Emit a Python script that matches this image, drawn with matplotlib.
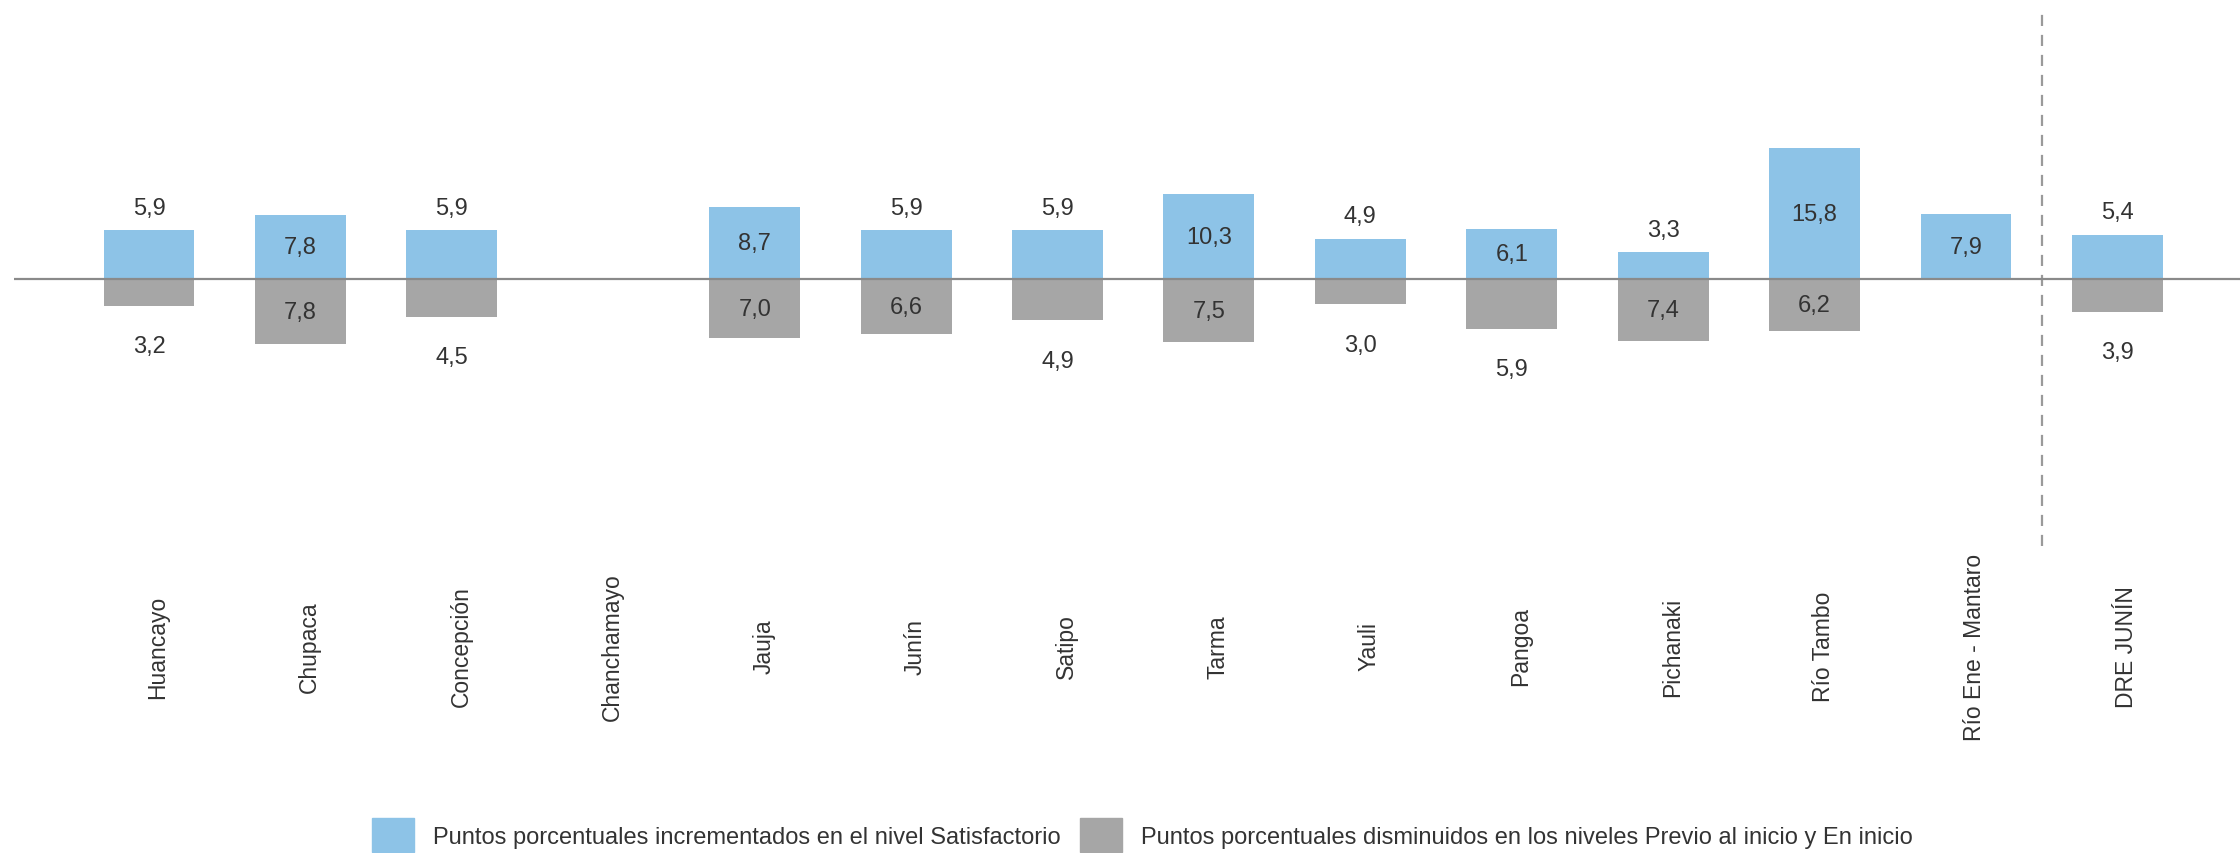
import numpy as np
import matplotlib
matplotlib.use('Agg')
import matplotlib.pyplot as plt
import matplotlib.transforms as mtransforms
from matplotlib import font_manager
from matplotlib.patches import Patch

categories = ['Huancayo', 'Chupaca', 'Concepción', 'Chanchamayo', 'Jauja', 'Junín', 'Satipo',
              'Tarma', 'Yauli', 'Pangoa', 'Pichanaki', 'Río Tambo', 'Río Ene - Mantaro', 'DRE JUNÍN']
incrementados = [5.9, 7.8, 5.9, np.nan, 8.7, 5.9, 5.9, 10.3, 4.9, 6.1, 3.3, 15.8, 7.9, 5.4]
disminuidos = [3.2, 7.8, 4.5, np.nan, 7.0, 6.6, 4.9, 7.5, 3.0, 5.9, 7.4, 6.2, np.nan, 3.9]

legend_labels = ['Puntos porcentuales incrementados en el nivel Satisfactorio',
                 'Puntos porcentuales disminuidos en los niveles Previo al inicio y En inicio']

blue = '#8dc3e7'
gray = '#a6a6a6'
text_color = '#333333'

installed = {f.name for f in font_manager.fontManager.ttflist}
base_font = 'Liberation Sans' if 'Liberation Sans' in installed else 'DejaVu Sans'
narrow_font = 'Liberation Sans Narrow' if 'Liberation Sans Narrow' in installed else base_font
plt.rcParams['font.family'] = base_font

fig = plt.figure(figsize=(22.4, 8.54), dpi=100)
ax = fig.add_axes([0.00625, 0.3595, 0.99375, 0.6241])

x = np.arange(len(categories))
inc = np.array(incrementados)
dis = np.array(disminuidos)

ax.bar(x, inc, width=0.6, color=blue, zorder=2)
ax.bar(x, -dis, width=0.6, color=gray, zorder=2)

ax.axhline(0, color='#8a8a8a', lw=1.6, zorder=3)
ax.axvline(12.5, color='#9a9a9a', lw=1.6, linestyle=(0, (5, 4)))


def fmt(v):
    return f'{v:.1f}'.replace('.', ',')


for xi, v in zip(x, inc):
    if np.isnan(v):
        continue
    if v >= 6:
        ax.text(xi, v / 2, fmt(v), ha='center', va='center', fontsize=17,
                family=narrow_font, color=text_color, zorder=4)
    else:
        ax.annotate(fmt(v), (xi, v), xytext=(0, 16), textcoords='offset points',
                    ha='center', va='center', fontsize=17, family=narrow_font, color=text_color)

for xi, v in zip(x, dis):
    if np.isnan(v):
        continue
    if v >= 6:
        ax.text(xi, -v / 2, fmt(v), ha='center', va='center', fontsize=17,
                family=narrow_font, color=text_color, zorder=4)
    else:
        ax.annotate(fmt(v), (xi, -v), xytext=(0, -29), textcoords='offset points',
                    ha='center', va='center', fontsize=17, family=narrow_font, color=text_color)

ax.set_xlim(-0.892, 13.81)
ax.set_ylim(-32, 32)
ax.set_xticks(x, categories, rotation=90, va='center', ha='center', fontsize=16.5, color=text_color)
ax.tick_params(axis='x', length=0, pad=72)
shift = mtransforms.ScaledTranslation(6.5 / 72, 0, fig.dpi_scale_trans)
for lbl in ax.get_xticklabels():
    lbl.set_transform(lbl.get_transform() + shift)
ax.set_yticks([])
for s in ax.spines.values():
    s.set_visible(False)

handles = [Patch(color=blue), Patch(color=gray)]
fig.legend(handles, legend_labels, loc='center', bbox_to_anchor=(0.51, 0.021), ncol=2,
           frameon=False, fontsize=17, handlelength=1.8, handleheight=1.8,
           handletextpad=0.8, columnspacing=0.8, labelcolor=text_color)

fig.savefig('out.png', dpi=100)
